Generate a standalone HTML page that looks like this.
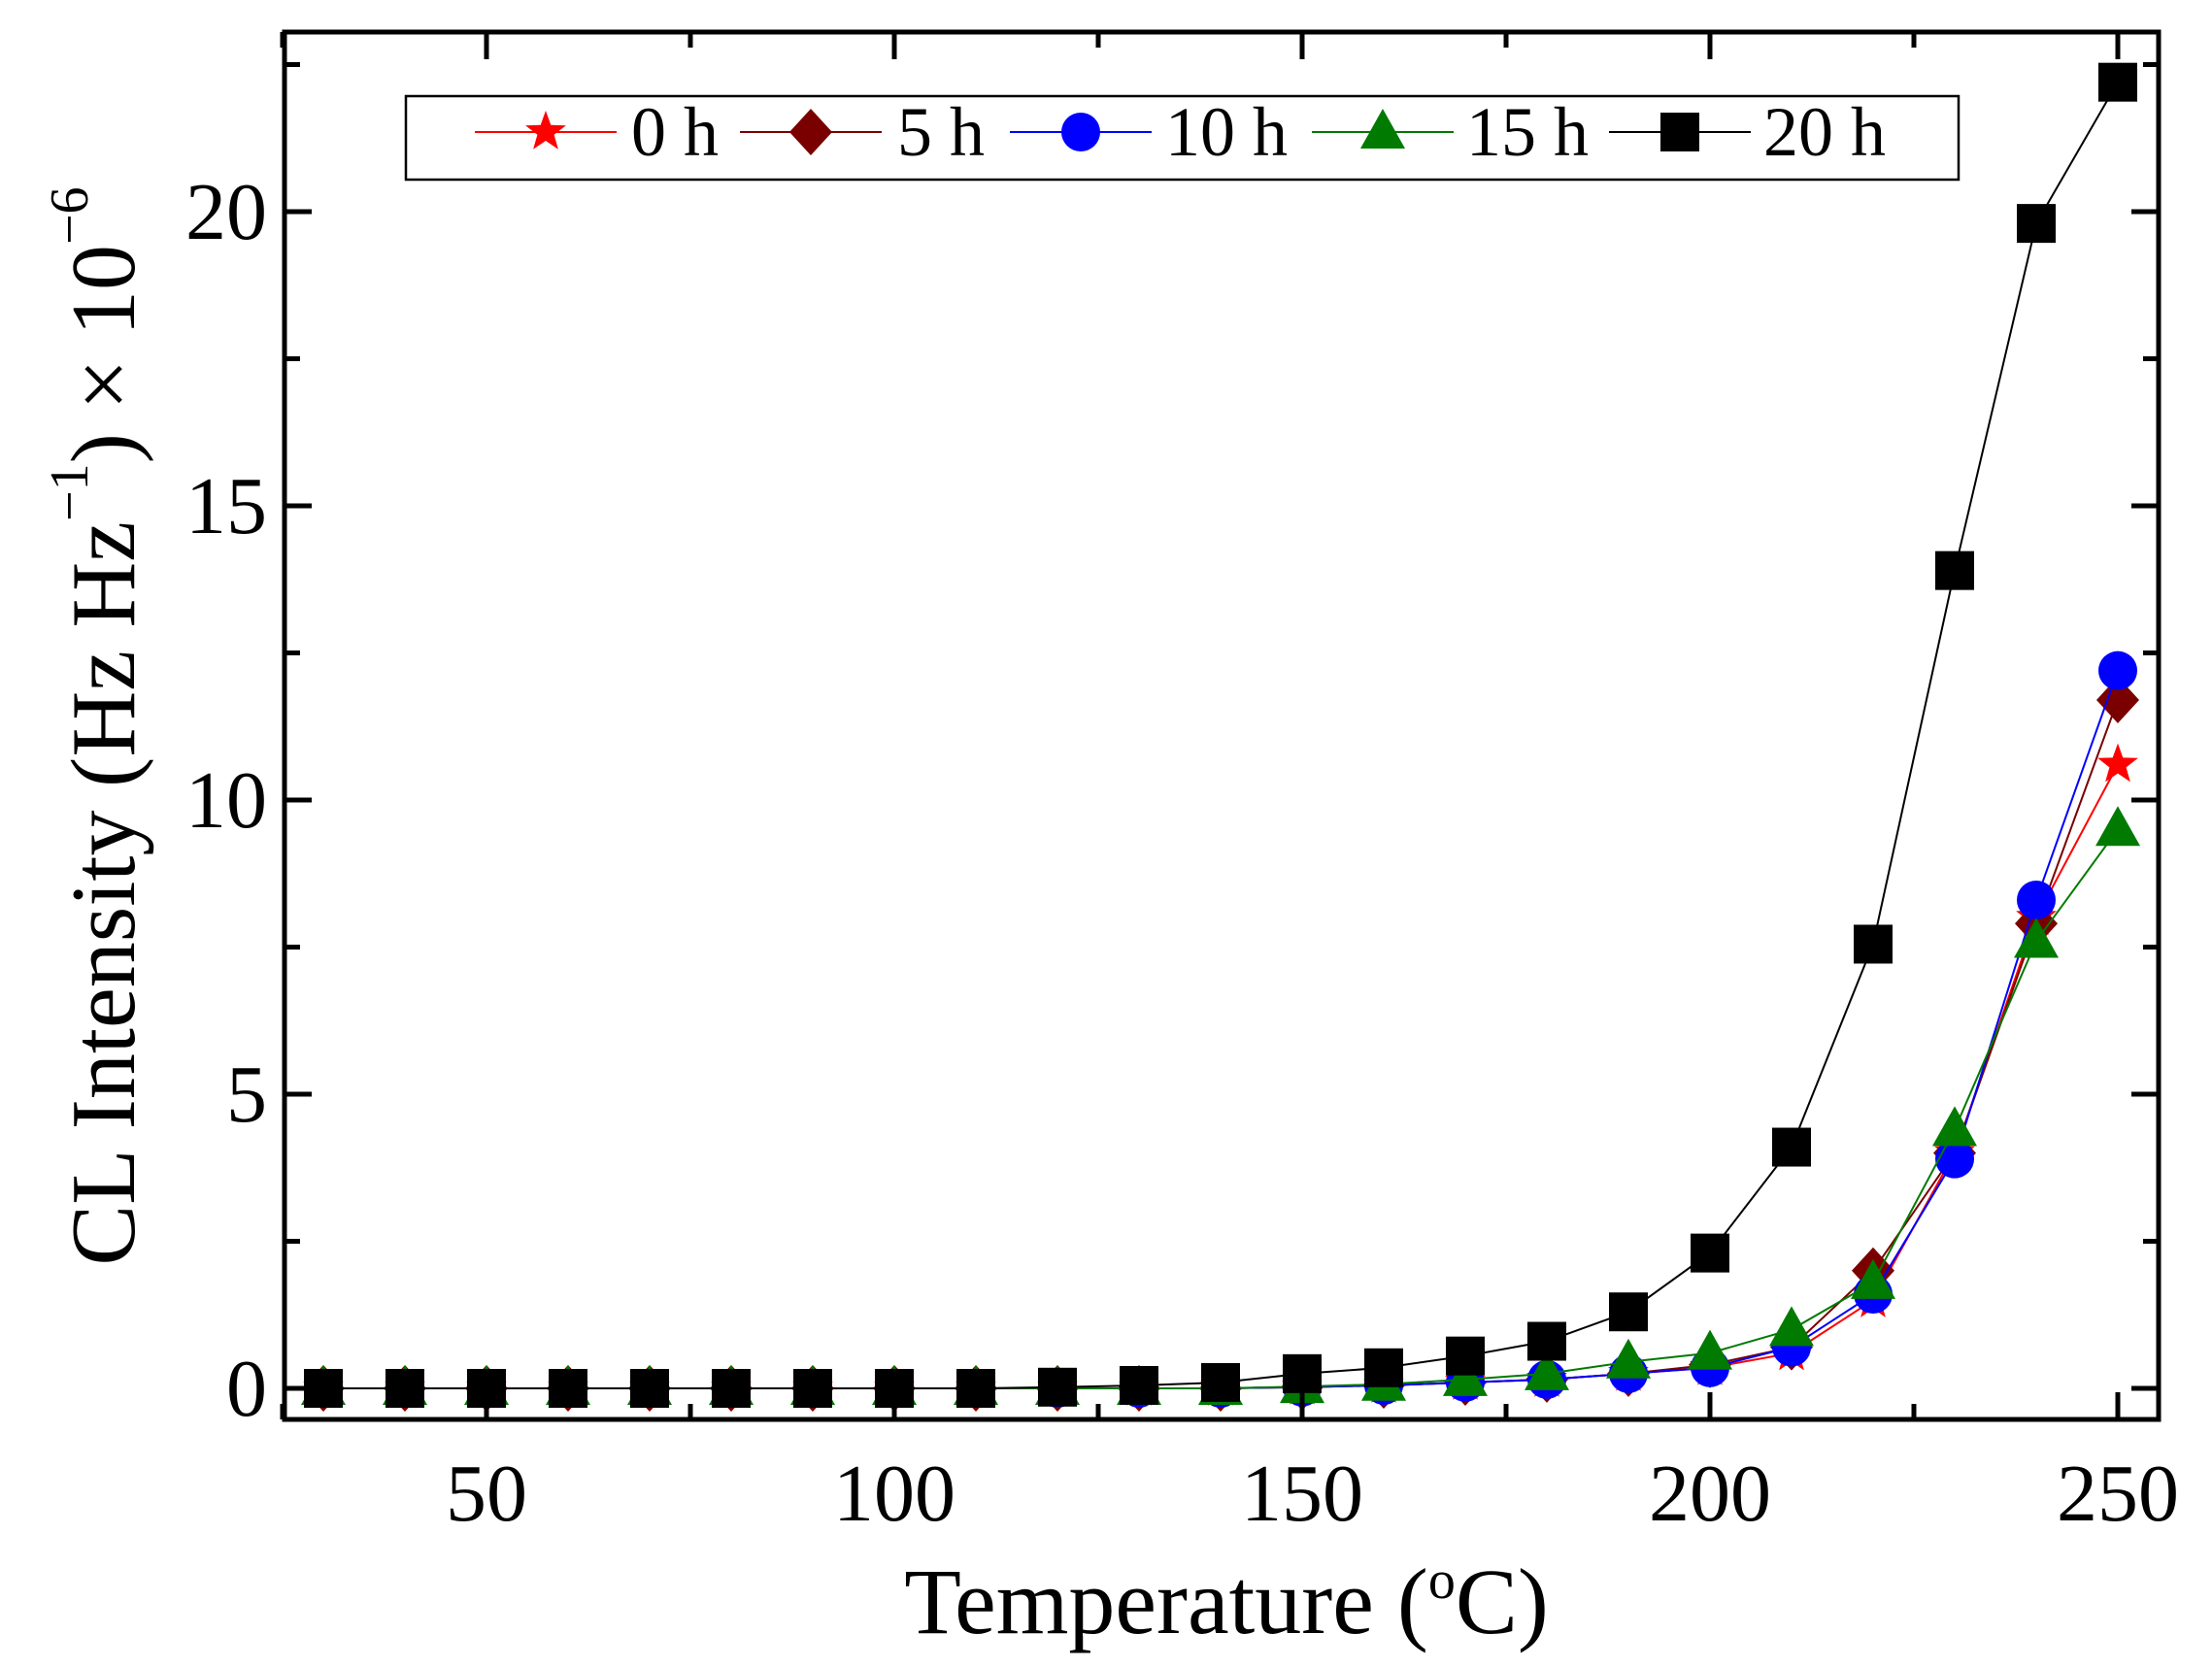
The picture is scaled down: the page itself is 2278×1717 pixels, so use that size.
<!DOCTYPE html>
<html><head><meta charset="utf-8"><style>
html,body{margin:0;padding:0;background:#fff;}
svg{display:block;font-family:"Liberation Serif",serif;}
</style></head><body>
<svg id="s" width="2278" height="1717" viewBox="0 0 2278 1717" xmlns="http://www.w3.org/2000/svg">
<rect width="2278" height="1717" fill="#fff"/>
<g id="plot"></g>
<rect x="293" y="33" width="1930" height="1429" fill="none" stroke="#000" stroke-width="5"/>
<g id="ticks" stroke="#000" stroke-width="5"></g>
<g font-size="84" text-anchor="middle" fill="#000">
<text x="501" y="1566">50</text><text x="921" y="1566">100</text><text x="1341" y="1566">150</text><text x="1761" y="1566">200</text><text x="2181" y="1566">250</text>
</g>
<g font-size="84" text-anchor="end" fill="#000">
<text x="275" y="1458">0</text><text x="275" y="1155">5</text><text x="275" y="852">10</text><text x="275" y="549">15</text><text x="275" y="246">20</text>
</g>
<text x="1263" y="1682" font-size="96" text-anchor="middle">Temperature (<tspan dy="-36" font-size="56">o</tspan><tspan dy="36">C)</tspan></text>
<text transform="translate(138,748) rotate(-90)" font-size="94" text-anchor="middle">CL Intensity (Hz Hz<tspan dy="-48" font-size="56">−1</tspan><tspan dy="48">) × 10</tspan><tspan dy="-48" font-size="56">−6</tspan></text>
<rect x="418" y="99" width="1599" height="86" fill="#fff" stroke="#000" stroke-width="2.5"/>
<g id="leg"></g>
<g font-size="72" fill="#000">
<text x="650" y="160">0 h</text><text x="924" y="160">5 h</text><text x="1200" y="160">10 h</text><text x="1510" y="160">15 h</text><text x="1816" y="160">20 h</text>
</g>
</svg>
<script>
const NS="http://www.w3.org/2000/svg";
const X=v=>333+8.4*(v-30), Y=v=>1430-60.6*v;
function el(p,t,a){const e=document.createElementNS(NS,t);for(const k in a)e.setAttribute(k,a[k]);p.appendChild(e);return e;}
const tk=document.getElementById('ticks');
for(let v=25;v<=250;v+=25){const x=X(v),L=v%50==0?28:16;el(tk,'line',{x1:x,y1:1462,x2:x,y2:1462-L});el(tk,'line',{x1:x,y1:33,x2:x,y2:33+L});}
for(let v=0;v<=22.5;v+=2.5){const y=Y(v),L=v%5==0?28:16;el(tk,'line',{x1:293,y1:y,x2:293+L,y2:y});el(tk,'line',{x1:2223,y1:y,x2:2223-L,y2:y});}
function marker(g,type,x,y,c){
 if(type=='sq')el(g,'rect',{x:x-20,y:y-20,width:40,height:40,fill:c});
 else if(type=='ci')el(g,'circle',{cx:x,cy:y,r:20,fill:c});
 else if(type=='tr')el(g,'polygon',{points:`${x},${y-24} ${x+23},${y+17} ${x-23},${y+17}`,fill:c});
 else if(type=='di')el(g,'polygon',{points:`${x},${y-24} ${x+22},${y} ${x},${y+24} ${x-22},${y}`,fill:c});
 else{let p=[];for(let i=0;i<10;i++){const r=i%2?9:22,a=-Math.PI/2+i*Math.PI/5;p.push((x+r*Math.cos(a)).toFixed(1)+','+(y+r*Math.sin(a)).toFixed(1));}el(g,'polygon',{points:p.join(' '),fill:c});}
}
const T=[];for(let t=30;t<=250;t+=10)T.push(t);
const low=n=>Array(n).fill(0);
const S=[
 ['st','#ff0000',low(12).concat([0.02,0.05,0.1,0.15,0.25,0.35,0.6,1.5,4.0,8.0,10.6])],
 ['di','#7a0000',low(12).concat([0.02,0.05,0.1,0.15,0.25,0.4,0.7,2.0,4.0,7.9,11.7])],
 ['ci','#0000ff',low(12).concat([0.02,0.05,0.1,0.15,0.25,0.35,0.7,1.6,3.9,8.3,12.2])],
 ['tr','#007a00',low(12).concat([0.03,0.07,0.15,0.25,0.45,0.6,1.0,1.8,4.4,7.6,9.5])],
 ['sq','#000000',[0,0,0,0,0,0,0,0,0,0.02,0.05,0.1,0.25,0.35,0.55,0.8,1.3,2.3,4.1,7.55,13.9,19.8,22.2]]
];
const pg=document.getElementById('plot');
S.forEach(([m,c,d])=>{
 el(pg,'polyline',{points:T.map((t,i)=>X(t)+','+Y(d[i])).join(' '),fill:'none',stroke:c,'stroke-width':2});
 T.forEach((t,i)=>marker(pg,m,X(t),Y(d[i]),c));
});
const lg=document.getElementById('leg');
const L=[['st','#ff0000',489,635],['di','#7a0000',762,908],['ci','#0000ff',1040,1186],['tr','#007a00',1351,1497],['sq','#000000',1657,1803]];
L.forEach(([m,c,a,b])=>{el(lg,'line',{x1:a,y1:136,x2:b,y2:136,stroke:c,'stroke-width':2});marker(lg,m,(a+b)/2,136,c);});
</script>
</body></html>
